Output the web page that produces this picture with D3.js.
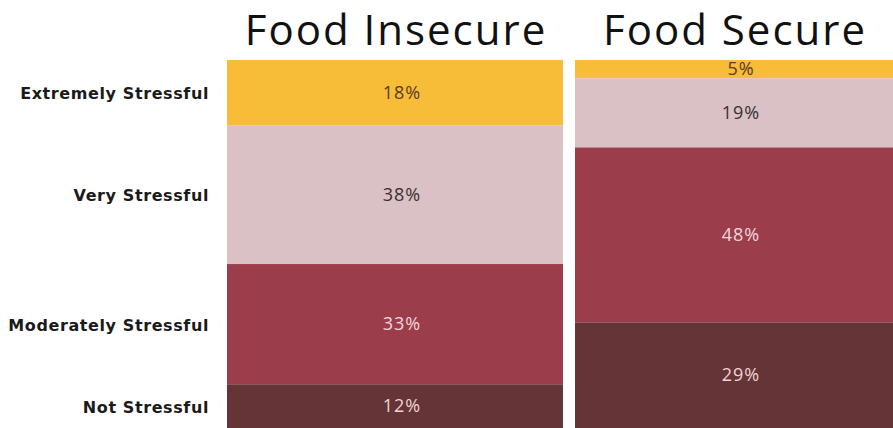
<!DOCTYPE html>
<html>
<head>
<meta charset="utf-8">
<script src="https://cdn.jsdelivr.net/npm/d3@7"></script>
<style>
  body { margin: 0; background: #fff; }
  text { font-family: "Open Sans", "Noto Sans", sans-serif; }
</style>
</head>
<body>
<script>
'use strict';

// stress levels, top to bottom
const levels = ['Extremely Stressful', 'Very Stressful', 'Moderately Stressful', 'Not Stressful']
const groups = ['Food Insecure', 'Food Secure']
const insecureValues = [18, 38, 33, 12]
const secureValues = [5, 19, 48, 29]

const colors = ['#F7BC38', '#D9C1C6', '#9C3D4C', '#653436']
const labelColors = ['#5a3a22', '#3a3033', '#f3d6da', '#f0d3d3']

const m = { width: 893, height: 428, top: 60, bottom: 428 }

// table built from the arrays above
const table = groups.map((g, i) => {
  const row = { group: g }
  const vals = i === 0 ? insecureValues : secureValues
  levels.forEach((l, j) => { row[l] = vals[j] })
  return row
})

const svg = d3.select('body')
  .append('svg')
  .attr('width', m.width)
  .attr('height', m.height)

// column band scale (left column 227-563, right 575-893)
const x = d3.scaleBand()
  .domain(groups)
  .range([227, 911])
  .paddingInner(0.0345)
  .paddingOuter(0)

const total = d3.max(table, (d) => d3.sum(levels, (l) => d[l]))
const y = d3.scaleLinear()
  .domain([0, total])
  .range([m.top, m.bottom])

const series = d3.stack().keys(levels)(table)

const colWidth = (d) => Math.min(x.bandwidth(), m.width - x(d.data.group))

// segments
const layer = svg.selectAll('g.layer')
  .data(series)
  .enter()
  .append('g')
    .attr('class', 'layer')
    .style('fill', (d, i) => colors[i])

layer.selectAll('rect')
  .data((d) => d)
  .enter()
  .append('rect')
    .attr('x', (d) => x(d.data.group))
    .attr('y', (d) => y(d[0]))
    .attr('width', colWidth)
    .attr('height', (d) => y(d[1]) - y(d[0]))

// percent labels
series.forEach((s, i) => {
  svg.selectAll('text.pct-' + i)
    .data(s)
    .enter()
    .append('text')
      .attr('class', 'pct-' + i)
      .attr('x', (d) => x(d.data.group) + colWidth(d) / 2 + 7)
      .attr('y', (d) => (y(d[0]) + y(d[1])) / 2)
      .attr('dy', '0.35em')
      .attr('text-anchor', 'middle')
      .style('font-size', '18px')
      .style('letter-spacing', '1px')
      .style('fill', labelColors[i])
      .text((d) => (d[1] - d[0]) + '%')
})

// column titles
svg.selectAll('text.title')
  .data(groups)
  .enter()
  .append('text')
    .attr('class', 'title')
    .attr('x', (d) => x(d) + Math.min(x.bandwidth(), m.width - x(d)) / 2 + 1)
    .attr('y', 45)
    .attr('text-anchor', 'middle')
    .style('font-size', '42px')
    .style('letter-spacing', '2px')
    .style('fill', '#111')
    .text((d) => d)

// row labels, aligned with the left column segments
const first = series.map((s) => s[0])
svg.selectAll('text.level')
  .data(first)
  .enter()
  .append('text')
    .attr('class', 'level')
    .attr('x', 209)
    .attr('y', (d) => (y(d[0]) + y(d[1])) / 2 + 1)
    .attr('dy', '0.35em')
    .attr('text-anchor', 'end')
    .style('font-family', '"DejaVu Sans", sans-serif')
    .style('font-size', '16px')
    .style('letter-spacing', '0.6px')
    .style('font-weight', 'bold')
    .style('fill', '#1a1a1a')
    .text((d, i) => levels[i])
</script>
</body>
</html>
